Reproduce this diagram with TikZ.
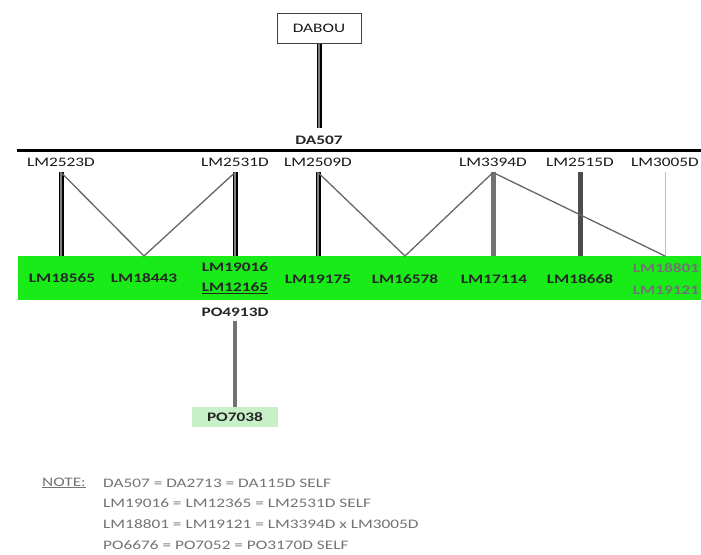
\documentclass[tikz,border=0pt]{standalone}
\usepackage{fontspec}
\setmainfont{Carlito}[FakeStretch=1.33]
\definecolor{bandgreen}{RGB}{25,235,25}
\definecolor{pogreen}{RGB}{200,240,200}
\begin{document}
\begin{tikzpicture}[x=1pt,y=-1pt,
  lbl/.style={font=\fontsize{13}{15}\selectfont, text=black!90, inner sep=1pt},
  grn/.style={font=\fontsize{13}{15}\selectfont\bfseries, text=black!85, inner sep=1pt},
  note/.style={font=\fontsize{13}{15}\selectfont, text=black!55, inner sep=0pt, anchor=west},
  dbl/.style={line width=1.5pt, double=black!50, double distance=2pt},
  diag/.style={black!60, line width=1.3pt}]
\useasboundingbox (0,0) rectangle (701,554);

\node[draw, line width=1pt, draw=black!75, minimum width=84pt, minimum height=30pt, lbl] (dabou) at (319,28) {DABOU};
\node[grn] (da507) at (319,140) {DA507};
\coordinate (busL) at (17,150);
\coordinate (busR) at (701,150);
\draw[line width=3pt] (busL) -- (busR);
\draw[dbl] (dabou.south) -- ([yshift=6pt]da507.north);

\node[lbl] (t2523) at (61,162) {LM2523D};
\node[lbl] (t2531) at (235,162) {LM2531D};
\node[lbl] (t2509) at (318,162) {LM2509D};
\node[lbl] (t3394) at (493,162) {LM3394D};
\node[lbl] (t2515) at (580,162) {LM2515D};
\node[lbl] (t3005) at (665,162) {LM3005D};

\node[fill=bandgreen, minimum width=683pt, minimum height=44pt, inner sep=0pt, anchor=north west] (band) at (18,256) {};
\node[grn] (b18565) at (62,278) {LM18565};
\node[grn] (b18443) at (144,278) {LM18443};
\node[grn] (b19016) at (235,267) {LM19016};
\node[grn] (b12165) at (235,288) {\underline{LM12165}};
\node[grn] (b19175) at (318,279) {LM19175};
\node[grn] (b16578) at (405,279) {LM16578};
\node[grn] (b17114) at (494,279) {LM17114};
\node[grn] (b18668) at (580,279) {LM18668};
\node[grn, text=black!55] (b18801) at (666,268) {LM18801};
\node[grn, text=black!55] (b19121) at (666,290) {LM19121};

\draw[dbl] ([yshift=-5pt]t2523.south) -- (t2523.south |- band.north);
\draw[dbl] ([yshift=-5pt]t2531.south) -- (t2531.south |- band.north);
\draw[dbl] ([yshift=-5pt]t2509.south) -- (t2509.south |- band.north);
\draw[line width=5pt, black!55] ([yshift=-5pt]t3394.south) -- (t3394.south |- band.north);
\draw[line width=5pt, black!70] ([yshift=-5pt]t2515.south) -- (t2515.south |- band.north);
\draw[line width=0.8pt, black!25] ([yshift=-5pt]t3005.south) -- (t3005.south |- band.north);

\draw[diag] ([yshift=-5pt]t2523.south) -- (b18443.north |- band.north) -- ([yshift=-5pt]t2531.south);
\draw[diag] ([yshift=-5pt]t2509.south) -- (b16578.north |- band.north) -- ([yshift=-5pt]t3394.south);
\draw[diag] ([yshift=-5pt]t3394.south) -- (t3005.south |- band.north);

\node[grn] (po4913) at (235,312) {PO4913D};
\node[grn, fill=pogreen, minimum width=86pt, minimum height=20pt] (po7038) at (235,417) {PO7038};
\draw[line width=4pt, black!55] ([yshift=-3pt]po4913.south) -- (po7038.north);

\node[note] (notehd) at (42,483) {\underline{NOTE:}};
\node[note] (n1) at (103,483) {DA507 = DA2713 = DA115D SELF};
\node[note] (n2) at (103,503) {LM19016 = LM12365 = LM2531D SELF};
\node[note] (n3) at (103,524) {LM18801 = LM19121 = LM3394D x LM3005D};
\node[note] (n4) at (103,545) {PO6676 = PO7052 = PO3170D SELF};
\end{tikzpicture}
\end{document}
